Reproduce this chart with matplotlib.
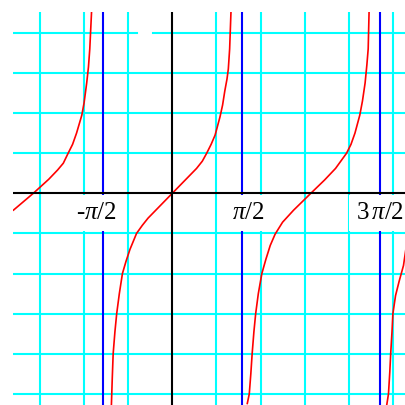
import matplotlib
matplotlib.use("Agg")
import matplotlib.pyplot as plt

plt.rcParams['font.family'] = ['Liberation Serif', 'DejaVu Serif']
plt.rcParams['mathtext.fontset'] = 'custom'
plt.rcParams['mathtext.rm'] = 'Liberation Serif'
plt.rcParams['mathtext.it'] = 'Liberation Serif:italic'

# branches of the curve (one list per branch)
b1_x = [-3.60, -3.15, -2.80, -2.60, -2.47, -2.36, -2.26, -2.17, -2.05, -2.00, -1.94, -1.90, -1.87, -1.83]
b1_y = [-0.42, 0.0, 0.35, 0.58, 0.75, 1.0, 1.22, 1.5, 1.95, 2.25, 2.75, 3.15, 3.6, 4.52]

b2_x = [-1.38, -1.36, -1.34, -1.30, -1.26, -1.20, -1.13, -1.05, -0.96, -0.81, -0.68, -0.55, 0.0,
        0.55, 0.68, 0.78, 0.88, 0.97, 1.08, 1.14, 1.19, 1.24, 1.27, 1.30, 1.33]
b2_y = [-5.28, -4.6, -4.0, -3.45, -3.0, -2.5, -2.0, -1.7, -1.4, -1.0, -0.8, -0.62, 0.0,
        0.62, 0.8, 1.0, 1.22, 1.45, 1.9, 2.2, 2.55, 2.85, 3.1, 3.6, 4.52]

b3_x = [1.70, 1.745, 1.78, 1.81, 1.85, 1.89, 1.95, 2.03, 2.12, 2.22, 2.33, 2.50, 2.75, 3.14,
        3.45, 3.70, 3.95, 4.05, 4.14, 4.25, 4.31, 4.37, 4.41, 4.44, 4.46]
b3_y = [-5.24, -5.0, -4.5, -4.0, -3.45, -3.0, -2.5, -2.0, -1.65, -1.3, -1.02, -0.72, -0.42, 0.0,
        0.33, 0.62, 1.0, 1.22, 1.5, 1.95, 2.3, 2.75, 3.2, 3.6, 4.52]

b4_x = [4.86, 4.90, 4.93, 4.95, 4.98, 5.0, 5.06, 5.14, 5.24, 5.30]
b4_y = [-5.28, -5.0, -4.45, -4.0, -3.45, -3.0, -2.55, -2.2, -1.8, -1.35]

asymptotes = [-1.5708, 1.5708, 4.7124]
grid_x = [-3, -2, -1, 1, 2, 3, 4, 5]
grid_y = [-5, -4, -3, -2, -1, 1, 2, 3]
labels = ['-$\\pi$/2', '$\\pi$/2', '3$\\,\\pi$/2']
label_x = [-1.71, 1.72, 4.70]

fig = plt.figure(figsize=(4.06, 4.05), dpi=100)
ax = fig.add_axes([12.7 / 406, 0, 1 - 12.7 / 406, (405 - 12) / 405])
ax.set_xlim(-3.617, 5.297)
ax.set_ylim(-5.278, 4.52)
ax.axis('off')

cyan = '#00ffff'
for gx in grid_x:
    ax.axvline(gx, color=cyan, lw=1.5, zorder=1)
for gy in grid_y:
    ax.axhline(gy, color=cyan, lw=1.5, zorder=1)
# top grid line has a small break in it
ax.plot([-3.617, -0.80], [4, 4], color=cyan, lw=1.5, zorder=1)
ax.plot([-0.44, 5.297], [4, 4], color=cyan, lw=1.5, zorder=1)

for a in asymptotes:
    ax.axvline(a, color='#0000ff', lw=1.5, zorder=2)

for bx, by in [(b1_x, b1_y), (b2_x, b2_y), (b3_x, b3_y), (b4_x, b4_y)]:
    ax.plot(bx, by, color='#ff0000', lw=1.2, zorder=3)

ax.axhline(0, color='black', lw=1.5, zorder=4)
ax.axvline(0, color='black', lw=1.5, zorder=4)

for lab, lx in zip(labels, label_x):
    ax.text(lx, -0.49, lab, fontsize=18, ha='center', va='center', zorder=5,
            bbox=dict(facecolor='white', edgecolor='none', pad=5))

fig.savefig('out.png', dpi=100)
